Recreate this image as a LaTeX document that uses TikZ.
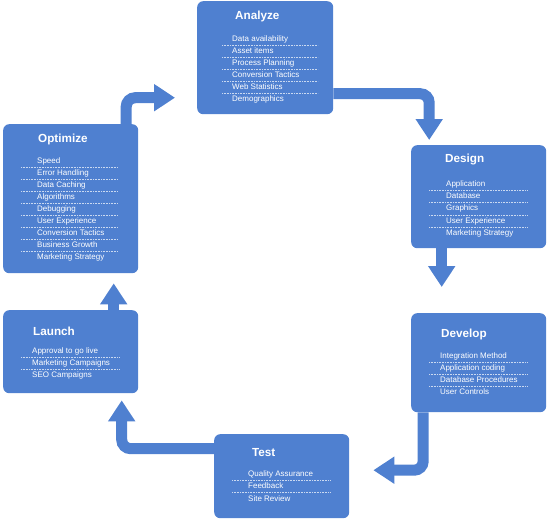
\documentclass[tikz,border=0pt]{standalone}
\usepackage{fontspec}
\setmainfont{Liberation Sans}
\usetikzlibrary{arrows.meta}
\definecolor{stageblue}{RGB}{79,128,208}
\tikzset{
  stage/.style={fill=stageblue, rounded corners=6pt, inner sep=0pt, anchor=north west},
  stagetitle/.style={anchor=west, inner sep=0pt, text=white, text height=8.4pt, text depth=0pt,
    font=\fontsize{11.7}{14}\selectfont\bfseries},
  stageitem/.style={anchor=west, inner sep=0pt, text=white, text height=5.8pt, text depth=1.6pt,
    font=\fontsize{8}{9.6}\selectfont},
  itemsep/.style={white!70!stageblue, line width=0.6pt, dash pattern=on 0.7pt off 0.9pt},
  flow/.style={draw=stageblue, line width=11pt, rounded corners=9pt,
    -{Triangle[width=26pt,length=21pt]}}
}
\begin{document}
\begin{tikzpicture}[x=1pt,y=-1pt]
% page frame, pixel units
\useasboundingbox (0,0) rectangle (549,519);
% Analyze
\node[stage, minimum width=136pt, minimum height=113pt] (ana) at (197,1) {};
\node[stagetitle] (anatitle) at (235,15) {Analyze};
\foreach \txt [count=\i] in {Data availability, Asset items, Process Planning,
    Conversion Tactics, Web Statistics, Demographics}
  \node[stageitem] (ana\i) at (232,27.3+12*\i) {\txt};
\foreach \i in {1,...,5}
  \draw[itemsep] (222,33.3+12*\i) -- (318,33.3+12*\i);
% Design
\node[stage, minimum width=135pt, minimum height=103pt] (des) at (411,145) {};
\node[stagetitle] (destitle) at (445,158) {Design};
\foreach \txt [count=\i] in {Application, Database, Graphics, User Experience,
    Marketing Strategy}
  \node[stageitem] (des\i) at (446,172.2+12.2*\i) {\txt};
\foreach \i in {1,...,4}
  \draw[itemsep] (429,178.2+12.2*\i) -- (527,178.2+12.2*\i);
% Develop
\node[stage, minimum width=135pt, minimum height=99pt] (dev) at (411,313) {};
\node[stagetitle] (devtitle) at (441,333) {Develop};
\foreach \txt [count=\i] in {Integration Method, Application coding,
    Database Procedures, User Controls}
  \node[stageitem] (dev\i) at (440,344.7+12*\i) {\txt};
\foreach \i in {1,...,3}
  \draw[itemsep] (429,350.7+12*\i) -- (527,350.7+12*\i);
% Test
\node[stage, minimum width=135pt, minimum height=84pt] (tst) at (214,434) {};
\node[stagetitle] (tsttitle) at (252,452) {Test};
\foreach \txt [count=\i] in {Quality Assurance, Feedback, Site Review}
  \node[stageitem] (tst\i) at (248,462+12.3*\i) {\txt};
\foreach \i in {1,2}
  \draw[itemsep] (232,468+12.3*\i) -- (331,468+12.3*\i);
% Launch
\node[stage, minimum width=135pt, minimum height=83pt] (lau) at (3,310) {};
\node[stagetitle] (lautitle) at (33,331) {Launch};
\foreach \txt [count=\i] in {Approval to go live, Marketing Campaigns, SEO Campaigns}
  \node[stageitem] (lau\i) at (32,339+12*\i) {\txt};
\foreach \i in {1,2}
  \draw[itemsep] (21,345+12*\i) -- (119,345+12*\i);
% Optimize
\node[stage, minimum width=135pt, minimum height=149pt] (opt) at (3,124) {};
\node[stagetitle] (opttitle) at (38,138) {Optimize};
\foreach \txt [count=\i] in {Speed, Error Handling, Data Caching, Algorithms, Debugging,
    User Experience, Conversion Tactics, Business Growth, Marketing Strategy}
  \node[stageitem] (opt\i) at (37,149.7+12*\i) {\txt};
\foreach \i in {1,...,8}
  \draw[itemsep] (21,155.7+12*\i) -- (118,155.7+12*\i);
% cycle arrows
\draw[flow, shorten >=5pt] ([yshift=-36pt]ana.east) -| ([xshift=-49.5pt]des.north);
\draw[flow, shorten >=26pt] ([xshift=-37pt]des.south) -- ([xshift=-37pt]dev.north);
\draw[flow, shorten >=24pt] ([xshift=-55.5pt]dev.south) |- ([yshift=6pt]tst.east);
\draw[flow, shorten >=7pt] ([yshift=27.5pt]tst.west) -| ([xshift=51pt]lau.south);
\draw[flow, shorten >=10pt] ([xshift=43pt]lau.north) -- ([xshift=43pt]opt.south);
\draw[flow, shorten >=22pt] ([xshift=55.5pt]opt.north) |- ([yshift=-40pt]ana.west);
\end{tikzpicture}
\end{document}
